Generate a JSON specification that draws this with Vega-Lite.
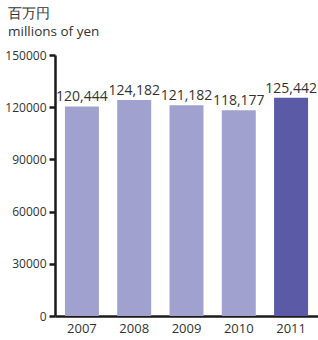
{
  "$schema": "https://vega.github.io/schema/vega-lite/v6.json",
  "autosize": "none",
  "width": 263,
  "height": 261,
  "padding": {"left": 55, "top": 55, "right": 0, "bottom": 24},
  "background": "white",
  "title": {
    "text": ["百万円", "millions of yen"],
    "anchor": "start",
    "frame": "group",
    "dx": -47,
    "offset": 11,
    "font": "Open Sans",
    "fontSize": 13.5,
    "fontWeight": "normal",
    "color": "#333333",
    "lineHeight": 18
  },
  "data": {
    "values": [
      {"year": "2007", "value": 120444, "latest": "no"},
      {"year": "2008", "value": 124182, "latest": "no"},
      {"year": "2009", "value": 121182, "latest": "no"},
      {"year": "2010", "value": 118177, "latest": "no"},
      {"year": "2011", "value": 125442, "latest": "yes"}
    ]
  },
  "encoding": {
    "x": {
      "field": "year",
      "type": "nominal",
      "scale": {"paddingInner": 0.35, "paddingOuter": 0.19},
      "axis": {
        "title": null,
        "labelAngle": 0,
        "ticks": false,
        "labelPadding": 6,
        "labelFont": "Open Sans",
        "labelFontSize": 13,
        "labelColor": "#333333",
        "domainColor": "#1a1a1a",
        "domainWidth": 2.5
      }
    },
    "y": {
      "field": "value",
      "type": "quantitative",
      "scale": {"domain": [0, 150000], "nice": false},
      "axis": {
        "title": null,
        "values": [0, 30000, 60000, 90000, 120000, 150000],
        "format": "d",
        "grid": false,
        "tickSize": 6,
        "tickWidth": 2.5,
        "tickColor": "#1a1a1a",
        "domainColor": "#1a1a1a",
        "domainWidth": 2.5,
        "labelPadding": 3,
        "labelFont": "Open Sans",
        "labelFontSize": 12,
        "labelColor": "#333333"
      }
    }
  },
  "layer": [
    {
      "mark": {"type": "bar"},
      "encoding": {
        "color": {
          "field": "latest",
          "type": "nominal",
          "scale": {"domain": ["no", "yes"], "range": ["#a1a1cf", "#5a5aa6"]},
          "legend": null
        }
      }
    },
    {
      "mark": {"type": "text", "baseline": "bottom", "dy": -2, "font": "Open Sans", "fontSize": 14, "color": "#333333"},
      "encoding": {
        "text": {"field": "value", "type": "quantitative", "format": ","}
      }
    }
  ],
  "config": {"view": {"stroke": null}}
}
